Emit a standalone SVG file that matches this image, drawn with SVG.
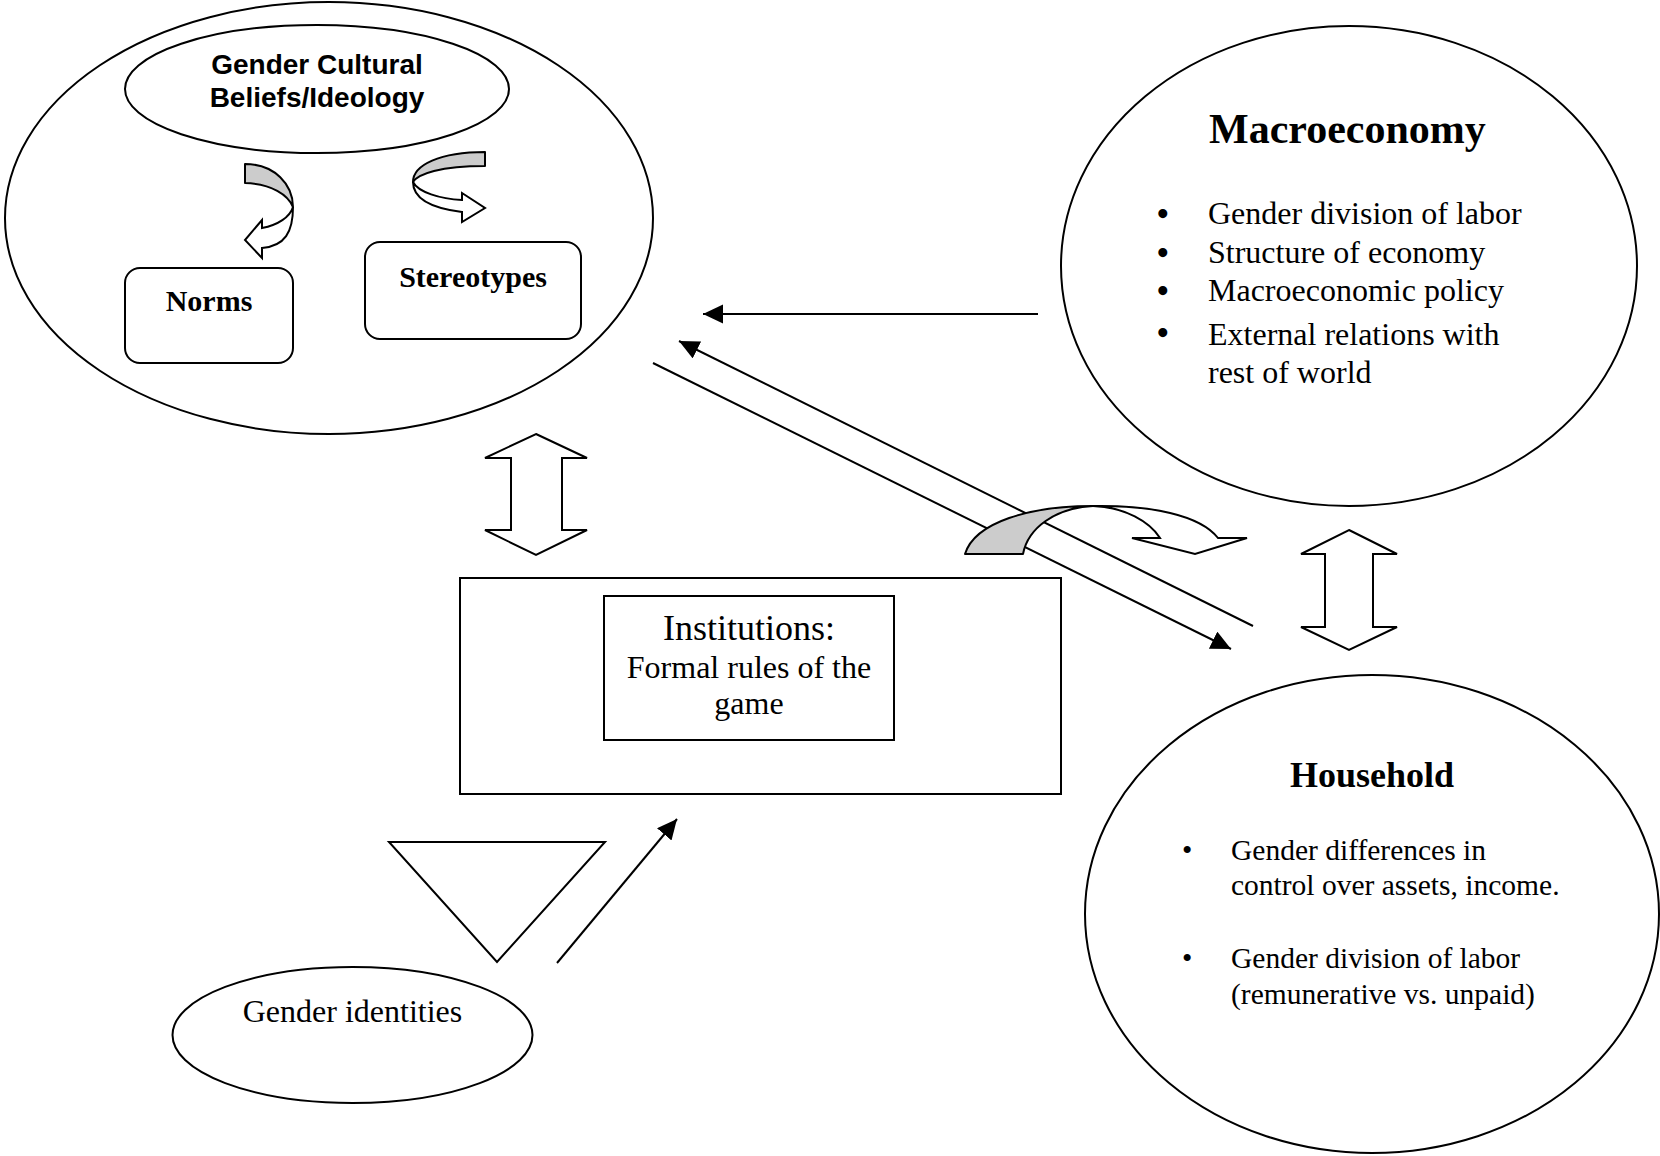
<svg xmlns="http://www.w3.org/2000/svg" width="1660" height="1156" viewBox="0 0 1660 1156">
<style>
.sh{fill:#fff;stroke:#000;stroke-width:2}
.ln{fill:none;stroke:#000;stroke-width:2}
.gr{fill:#cccccc;stroke:#000;stroke-width:2;stroke-linejoin:round}
.wh{fill:#fff;stroke:#000;stroke-width:2;stroke-linejoin:miter}
.serif{font-family:"Liberation Serif","Times New Roman",serif;fill:#000}
.sans{font-family:"Liberation Sans",Arial,sans-serif;fill:#000}
.b{font-weight:bold}
.c{text-anchor:middle}
.bul{font-size:33px;font-weight:bold}
</style>
<defs>
<marker id="ah" markerUnits="userSpaceOnUse" markerWidth="22" markerHeight="20" refX="20" refY="9.5" orient="auto">
<path d="M0,0 L20,9.5 L0,19 z" fill="#000"/>
</marker>
</defs>
<rect x="0" y="0" width="1660" height="1156" fill="#fff"/>

<g id="culture">
<ellipse class="sh" cx="329" cy="218" rx="324" ry="216"/>
</g>
<g id="beliefs">
<ellipse class="sh" cx="317" cy="89" rx="192" ry="64"/>
<text class="sans b c" x="317" y="74" font-size="28">Gender Cultural</text>
<text class="sans b c" x="317" y="107" font-size="28">Beliefs/Ideology</text>
</g>
<g id="norms">
<rect class="sh" x="125" y="268" width="168" height="95" rx="15"/>
<text class="serif b c" x="209" y="311" font-size="30">Norms</text>
</g>
<g id="stereotypes">
<rect class="sh" x="365" y="242" width="216" height="97" rx="15"/>
<text class="serif b c" x="473" y="287" font-size="30">Stereotypes</text>
</g>
<g id="arrow-to-norms">
<path class="gr" d="M245,164 C275,164 293,185 293,207 C288,195 272,184 245,183 Z"/>
<path class="wh" d="M293,207 C293,232 285,246 262,248 L262,258 L245,240 L262,220 L262,228 C278,225 290,217 293,207 Z"/>
</g>
<g id="arrow-to-stereotypes">
<path class="gr" d="M485,152 C440,152 413,165 413,182 C418,174 440,166 485,166 Z"/>
<path class="wh" d="M413,182 C413,198 430,208 462,212 L462,222 L485,208 L462,193 L462,200 C440,199 418,192 413,182 Z"/>
</g>

<g id="macroeconomy">
<ellipse class="sh" cx="1349" cy="266" rx="288" ry="240"/>
<text class="serif b" x="1209" y="143" font-size="42">Macroeconomy</text>
<g class="serif" font-size="32">
<text class="bul" x="1157" y="225">•</text><text x="1208" y="224">Gender division of labor</text>
<text class="bul" x="1157" y="264">•</text><text x="1208" y="263">Structure of economy</text>
<text class="bul" x="1157" y="302">•</text><text x="1208" y="301">Macroeconomic policy</text>
<text class="bul" x="1157" y="344">•</text><text x="1208" y="345">External relations with</text>
<text x="1208" y="383">rest of world</text>
</g>
</g>

<g id="household">
<ellipse class="sh" cx="1372" cy="914" rx="287" ry="239"/>
<text class="serif b c" x="1372" y="787" font-size="36">Household</text>
<g class="serif" font-size="29.5">
<text x="1182" y="860">•</text><text x="1231" y="860">Gender differences in</text>
<text x="1231" y="895">control over assets, income.</text>
<text x="1182" y="968">•</text><text x="1231" y="968">Gender division of labor</text>
<text x="1231" y="1004">(remunerative vs. unpaid)</text>
</g>
</g>

<g id="institutions">
<rect class="sh" x="460" y="578" width="601" height="216"/>
<rect class="sh" x="604" y="596" width="290" height="144"/>
<text class="serif c" x="749" y="640" font-size="36">Institutions:</text>
<text class="serif c" x="749" y="678" font-size="32">Formal rules of the</text>
<text class="serif c" x="749" y="714" font-size="32">game</text>
</g>

<g id="identities">
<ellipse class="sh" cx="352.5" cy="1035" rx="180" ry="68"/>
<text class="serif c" x="352.5" y="1022" font-size="32">Gender identities</text>
</g>

<g id="triangle">
<polygon class="sh" points="389,842 605,842 497,962"/>
</g>

<g id="connectors">
<line class="ln" x1="1038" y1="314" x2="703" y2="314" marker-end="url(#ah)"/>
<line class="ln" x1="1253" y1="626" x2="679" y2="341" marker-end="url(#ah)"/>
<line class="ln" x1="653" y1="363" x2="1231" y2="649" marker-end="url(#ah)"/>
<line class="ln" x1="557" y1="963" x2="677" y2="819" marker-end="url(#ah)"/>
<polygon class="wh" points="536,434 587,458 562,458 562,530 587,530 536,555 485,530 511,530 511,458 485,458"/>
<polygon class="wh" points="1349,530 1397,554 1373,554 1373,627 1397,627 1349,650 1301,627 1325,627 1325,554 1301,554"/>
<path class="gr" d="M965,554 C975,522 1030,506 1093,506 C1055,508 1028,528 1023,554 Z"/>
<path class="wh" d="M1093,506 C1150,505 1200,515 1218,538 L1247,538 L1195,554 L1132,538 L1160,538 C1150,522 1125,507 1093,506 Z"/>
</g>
</svg>
